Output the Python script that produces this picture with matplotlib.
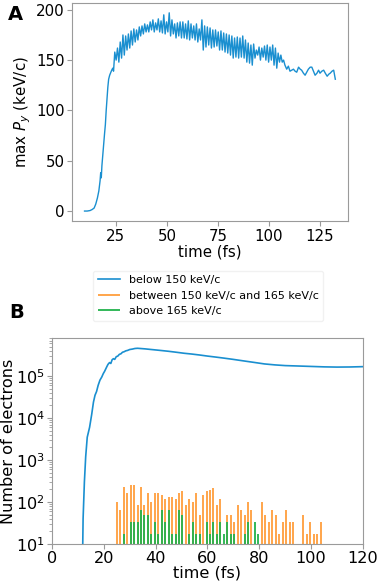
import numpy as np
import matplotlib
matplotlib.use("Agg")
import matplotlib.pyplot as plt

# ---- panel A: max P_y vs time ----
rise_t = [9.7, 11.0, 12.4, 13.4, 14.4, 15.2, 16.0, 16.7, 17.3, 17.6, 17.9, 18.2, 18.6,
          19.1, 19.5, 19.9, 20.3, 20.7, 21.1, 21.5, 22.0, 22.4, 23.0, 23.5, 23.9, 24.2]
rise_v = [0, 0, 0.5, 1.5, 3, 7, 13, 20, 30, 38, 33, 45, 55,
          67, 77, 86, 100, 112, 123, 131, 135, 137, 140, 142, 139, 148]

osc_start = 24.5
osc_period = 4 / 3
osc_peaks = [158, 162, 168, 175, 174, 176, 179, 181, 180, 183, 184, 186, 185, 188, 190, 187,
             191, 189, 195, 188, 197, 190, 186, 187, 188, 188, 186, 189, 186, 184, 186, 181,
             190, 184, 183, 182, 180, 180, 178, 179, 177, 176, 175, 174, 172, 173, 172, 174,
             170, 167, 165, 166, 160, 163, 162, 164, 165, 163, 165, 162, 157, 155, 150]
osc_troughs = [150, 148, 152, 155, 160, 162, 165, 168, 170, 174, 176, 178, 178, 180, 178, 180,
               178, 177, 176, 178, 174, 176, 172, 174, 172, 172, 171, 170, 172, 170, 168, 170,
               160, 163, 165, 162, 163, 164, 160, 160, 158, 157, 155, 152, 153, 152, 153, 152,
               148, 147, 145, 152, 155, 150, 153, 150, 148, 150, 145, 142, 148, 148, 145]

tail_t = [108.7, 109.5, 110.3, 111.2, 112.0, 112.8, 113.6, 114.5, 115.3, 116.0, 116.9, 117.7,
          118.5, 119.3, 120.2, 121.0, 121.8, 122.6, 123.5, 124.3, 125.0, 125.9, 126.8, 127.6,
          128.5, 129.3, 130.0, 130.9, 131.7, 132.5]
tail_v = [141, 144, 139, 140, 141, 139, 138, 143, 141, 140, 137, 135,
          138, 141, 143, 143, 139, 135, 137, 140, 137, 139, 140, 137,
          134, 136, 137, 139, 140, 131]

# ---- panel B: number of electrons ----
below_t = [11.8, 12.0, 12.5, 13.0, 13.6, 14.5, 15.3, 16.0, 16.6, 17.2, 17.8, 18.5, 19.2, 19.8,
           20.3, 21.1, 21.6, 22.2, 22.7, 23.2, 23.7, 24.2, 24.8, 25.4, 26.0, 26.6, 27.2, 27.8,
           28.5, 29.2, 30.0, 31.0, 32.0, 33.0, 34.0, 36.0, 38.0, 40.0, 42.0, 45.0, 48.0, 51.0,
           54.0, 57.0, 60.0, 63.0, 66.0, 70.0, 74.0, 78.0, 82.0, 86.0, 90.0, 95.0, 100.0,
           105.0, 110.0, 115.0, 120.0, 125.0]
below_v = [5, 40, 300, 1200, 3500, 6000, 12000, 24000, 35000, 43000, 60000, 80000, 95000, 115000,
           130000, 165000, 190000, 210000, 200000, 245000, 260000, 250000, 290000, 300000, 330000,
           340000, 370000, 380000, 400000, 410000, 430000, 440000, 455000, 460000, 455000, 445000,
           432000, 420000, 408000, 390000, 370000, 350000, 335000, 318000, 300000, 285000, 270000,
           250000, 230000, 212000, 195000, 185000, 178000, 174000, 170000, 166000, 164000, 165000,
           168000, 170000]

bar_t = [25.0, 26.33, 27.67, 29.0, 30.33, 31.67, 33.0, 34.33, 35.67, 37.0, 38.33, 39.67,
         41.0, 42.33, 43.67, 45.0, 46.33, 47.67, 49.0, 50.33, 51.67, 53.0, 54.33, 55.67,
         57.0, 58.33, 59.67, 61.0, 62.33, 63.67, 65.0, 66.33, 67.67, 69.0, 70.33, 71.67,
         73.0, 74.33, 75.67, 77.0, 78.33, 79.67, 81.0, 82.33, 83.67, 85.0, 86.33, 87.67,
         89.0, 90.33, 91.67, 93.0, 94.33, 95.67, 97.0, 98.33, 99.67, 101.0, 102.33, 103.67]
between_v = [99, 66, 231, 165, 248, 248, 83, 231, 83, 165, 99, 165,
             165, 149, 116, 132, 132, 116, 165, 182, 83, 116, 99, 165,
             50, 149, 182, 198, 215, 83, 116, 0, 50, 50, 33, 83,
             66, 50, 99, 66, 0, 0, 99, 50, 33, 66, 50, 17,
             33, 66, 33, 33, 0, 0, 50, 17, 33, 17, 17, 33]
above_v = [0, 0, 17, 0, 33, 33, 33, 66, 50, 50, 17, 33,
           17, 66, 33, 66, 17, 17, 66, 50, 0, 17, 33, 17,
           17, 0, 33, 17, 33, 17, 33, 17, 33, 17, 17, 0,
           0, 17, 33, 0, 33, 17, 0, 0, 0, 0, 0, 0,
           0, 0, 0, 0, 0, 0, 0, 0, 0, 0, 0, 0]

blue = "#1a8fd0"
orange = "#ff9e3d"
green = "#22b24c"
grey = "#9a9a9a"
fs = 10.8
fsb = 11.6

# build oscillating part of panel A from read peak / trough values
osc_t = []
osc_v = []
for k in range(len(osc_peaks)):
    osc_t += [osc_start + k * osc_period, osc_start + (k + 0.5) * osc_period]
    osc_v += [osc_peaks[k], osc_troughs[k]]
a_t = rise_t + osc_t + tail_t
a_v = rise_v + osc_v + tail_v

fig = plt.figure(figsize=(3.81, 5.83), dpi=100)

ax1 = fig.add_axes([0.189, 0.621, 0.724, 0.374])
ax1.plot(a_t, a_v, color=blue, lw=1.0)
ax1.set_xticks([25, 50, 75, 100, 125])
ax1.set_yticks([0, 50, 100, 150, 200])
ax1.set_xlabel("time (fs)", fontsize=fs, labelpad=1)
ax1.set_ylabel(r"max $P_y$ (keV/c)", fontsize=fs, labelpad=2)
ax1.tick_params(labelsize=fs, color=grey, length=3.5, pad=2)
for s in ax1.spines.values():
    s.set_color(grey)

ax2 = fig.add_axes([0.1365, 0.0669, 0.816, 0.353])
ax2.plot(below_t, below_v, color=blue, lw=1.2, label="below 150 keV/c")
bt = [t for t, v in zip(bar_t, between_v) if v > 0]
bv = [v for v in between_v if v > 0]
ax2.vlines(bt, 1, bv, color=orange, lw=1.3, label="between 150 keV/c and 165 keV/c")
gt = [t for t, v in zip(bar_t, above_v) if v > 0]
gv = [v for v in above_v if v > 0]
ax2.vlines(gt, 1, gv, color=green, lw=1.3, label="above 165 keV/c")
ax2.set_yscale("log")
ax2.set_ylim(10, 8e5)
ax2.set_xlim(0, 120)
ax2.set_xticks([0, 20, 40, 60, 80, 100, 120])
ax2.set_xlabel("time (fs)", fontsize=fsb, labelpad=0)
ax2.set_ylabel("Number of electrons", fontsize=fsb, labelpad=0)
ax2.tick_params(labelsize=fsb, color=grey, length=3.5, pad=1.5)
ax2.tick_params(which="minor", color=grey)
for s in ax2.spines.values():
    s.set_color(grey)

fig.legend(loc="upper center", bbox_to_anchor=(0.546, 0.545), fontsize=8,
           frameon=True, edgecolor="#eeeeee", fancybox=True)

fig.text(0.022, 0.965, "A", fontsize=14, fontweight="bold")
fig.text(0.025, 0.455, "B", fontsize=14, fontweight="bold")

fig.savefig("out.png", dpi=100)
